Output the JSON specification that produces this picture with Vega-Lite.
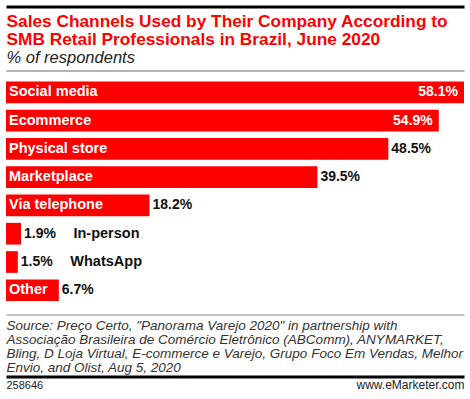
{
  "$schema": "https://vega.github.io/schema/vega-lite/v6.json",
  "background": "white",
  "padding": {"left": 6, "top": 5.5, "right": 2, "bottom": 0},
  "width": 458,
  "height": 244,
  "config": {"font": "Liberation Sans", "view": {"stroke": null}},
  "data": {
    "values": [
      {"channel": "Social media", "value": 0.581},
      {"channel": "Ecommerce", "value": 0.549},
      {"channel": "Physical store", "value": 0.485},
      {"channel": "Marketplace", "value": 0.395},
      {"channel": "Via telephone", "value": 0.182},
      {"channel": "In-person", "value": 0.019},
      {"channel": "WhatsApp", "value": 0.015},
      {"channel": "Other", "value": 0.067}
    ]
  },
  "encoding": {
    "y": {
      "field": "channel",
      "type": "nominal",
      "sort": null,
      "axis": null,
      "scale": {"paddingInner": 0.233, "paddingOuter": 0.43, "align": 0.45}
    }
  },
  "layer": [
    {
      "mark": {"type": "bar", "color": "#ff0000"},
      "encoding": {
        "x": {
          "field": "value",
          "type": "quantitative",
          "scale": {"domain": [0, 0.581], "nice": false},
          "axis": {
            "orient": "top",
            "domainColor": "#666666",
            "domainWidth": 1,
            "labels": false,
            "ticks": false,
            "grid": false,
            "title": "% of respondents",
            "titleAnchor": "start",
            "titleAlign": "left",
            "titleBaseline": "alphabetic",
            "titleFont": "Liberation Sans",
            "titleFontSize": 16.5,
            "titleFontStyle": "italic",
            "titleFontWeight": "normal",
            "titleColor": "#222222",
            "titlePadding": 8.5
          }
        }
      }
    },
    {
      "transform": [{"filter": "datum.value >= 0.05"}],
      "mark": {"type": "text", "align": "left", "baseline": "middle", "dx": 3, "color": "#ffffff", "fontWeight": "bold", "fontSize": 14.5},
      "encoding": {
        "x": {
          "datum": 0,
          "type": "quantitative",
          "scale": {"domain": [0, 0.581], "nice": false},
          "axis": {
            "orient": "top",
            "domain": false,
            "labels": false,
            "ticks": false,
            "grid": false,
            "title": ["Sales Channels Used by Their Company According to", "SMB Retail Professionals in Brazil, June 2020"],
            "titleAnchor": "start",
            "titleAlign": "left",
            "titleBaseline": "top",
            "titleFont": "Liberation Sans",
            "titleFontSize": 17.3,
            "titleFontWeight": "bold",
            "titleColor": "#ff0000",
            "titleLineHeight": 18.3,
            "titlePadding": 40.1
          }
        },
        "text": {"field": "channel"}
      }
    },
    {
      "transform": [{"filter": "datum.value < 0.05"}],
      "mark": {"type": "text", "align": "left", "baseline": "middle", "dx": 52.5, "color": "#111111", "fontWeight": "bold", "fontSize": 14.5},
      "encoding": {
        "x": {
          "field": "value",
          "type": "quantitative",
          "scale": {"domain": [0, 0.581], "nice": false},
          "axis": {
            "orient": "top",
            "offset": 64,
            "domain": true,
            "domainColor": "#000000",
            "domainWidth": 3,
            "ticks": false,
            "grid": false,
            "title": null,
            "values": [0],
            "labelExpr": "''",
            "labelFontSize": 1,
            "labelPadding": 0,
            "labelOverlap": false,
            "labelBound": false,
            "labelFlush": false
          }
        },
        "text": {"field": "channel"}
      }
    },
    {
      "transform": [{"filter": "datum.value > 0.5"}],
      "mark": {"type": "text", "align": "right", "baseline": "middle", "dx": -6, "color": "#ffffff", "fontWeight": "bold", "fontSize": 14},
      "encoding": {
        "x": {
          "field": "value",
          "type": "quantitative",
          "scale": {"domain": [0, 0.581], "nice": false},
          "axis": {
            "orient": "bottom",
            "domainColor": "#888888",
            "domainWidth": 1,
            "labels": false,
            "ticks": false,
            "grid": false,
            "title": [
              "Source: Preço Certo, \"Panorama Varejo 2020\" in partnership with",
              "Associação Brasileira de Comércio Eletrônico (ABComm), ANYMARKET,",
              "Bling, D Loja Virtual, E-commerce e Varejo, Grupo Foco Em Vendas, Melhor",
              "Envio, and Olist, Aug 5, 2020"
            ],
            "titleAnchor": "start",
            "titleAlign": "left",
            "titleBaseline": "top",
            "titleFont": "Liberation Sans",
            "titleFontSize": 13.5,
            "titleFontStyle": "italic",
            "titleFontWeight": "normal",
            "titleColor": "#333333",
            "titleLineHeight": 14,
            "titlePadding": 3.5
          }
        },
        "text": {"field": "value", "format": ".1%"}
      }
    },
    {
      "transform": [{"filter": "datum.value <= 0.5"}],
      "mark": {"type": "text", "align": "left", "baseline": "middle", "dx": 3, "color": "#111111", "fontWeight": "bold", "fontSize": 14},
      "encoding": {
        "x": {
          "field": "value",
          "type": "quantitative",
          "scale": {"domain": [0, 0.581], "nice": false},
          "axis": {
            "orient": "bottom",
            "offset": 62,
            "domain": true,
            "domainColor": "#000000",
            "domainWidth": 3,
            "ticks": false,
            "grid": false,
            "title": null,
            "values": [0, 0.581],
            "labelExpr": "datum.value == 0 ? '258646' : 'www.eMarketer.com'",
            "labelAlign": {"condition": {"test": "datum.value == 0", "value": "left"}, "value": "right"},
            "labelFontSize": {"condition": {"test": "datum.value == 0", "value": 11}, "value": 12},
            "labelFont": "Liberation Sans",
            "labelColor": "#222222",
            "labelBaseline": "top",
            "labelPadding": 3,
            "labelOverlap": false,
            "labelBound": false,
            "labelFlush": false
          }
        },
        "text": {"field": "value", "format": ".1%"}
      }
    }
  ],
  "resolve": {"axis": {"x": "independent"}}
}
